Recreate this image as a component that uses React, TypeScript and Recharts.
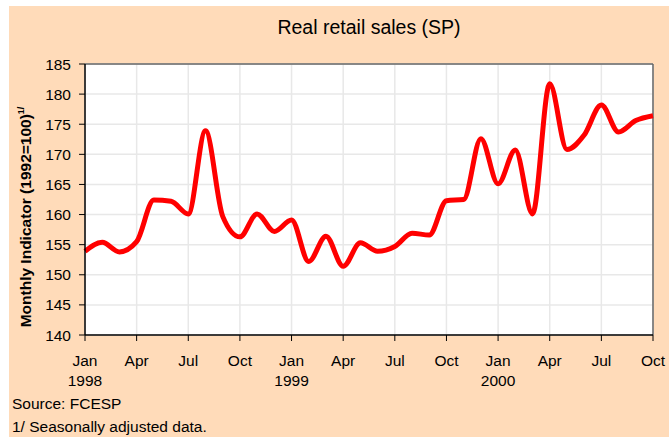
import { LineChart, Line, XAxis, YAxis, CartesianGrid, ReferenceLine } from "recharts";

const periods = [
  "Jan 1998", "Feb 1998", "Mar 1998", "Apr 1998", "May 1998", "Jun 1998",
  "Jul 1998", "Aug 1998", "Sep 1998", "Oct 1998", "Nov 1998", "Dec 1998",
  "Jan 1999", "Feb 1999", "Mar 1999", "Apr 1999", "May 1999", "Jun 1999",
  "Jul 1999", "Aug 1999", "Sep 1999", "Oct 1999", "Nov 1999", "Dec 1999",
  "Jan 2000", "Feb 2000", "Mar 2000", "Apr 2000", "May 2000", "Jun 2000",
  "Jul 2000", "Aug 2000", "Sep 2000", "Oct 2000",
];

const retailSales = [
  153.9, 155.4, 153.8, 155.5, 162.4, 162.2, 160.1, 173.9, 159.7, 156.3, 160.1, 157.2,
  159.1, 152.2, 156.4, 151.4, 155.3, 153.9, 154.7, 156.9, 156.6, 162.3, 162.5, 172.6,
  165.1, 170.7, 160.1, 181.7, 170.8, 173.2, 178.2, 173.7, 175.6, 176.4,
];

const yTicks = [140, 145, 150, 155, 160, 165, 170, 175, 180, 185];

const data = periods.map((p, i) => ({ period: p, value: retailSales[i] }));

const FONT = "'Liberation Sans', Arial, sans-serif";
const PEACH = "#FFDBB9";

function MonthTick({ x, y, payload }: any) {
  const [month, year] = String(payload.value).split(" ");
  return (
    <text x={x} y={y} textAnchor="middle" fontSize={15.5} fontFamily={FONT} fill="#000">
      <tspan x={x} dy={23}>{month}</tspan>
      {month === "Jan" && <tspan x={x} dy={20}>{year}</tspan>}
    </text>
  );
}

export default function App() {
  return (
    <div
      style={{
        position: "absolute",
        left: 9,
        top: 6,
        width: 660,
        height: 431,
        background: PEACH,
        fontFamily: FONT,
      }}
    >
      <div
        style={{
          position: "absolute",
          top: 12,
          left: 76,
          width: 568,
          textAlign: "center",
          fontSize: 19.5,
          lineHeight: "19.5px",
        }}
      >
        Real retail sales (SP)
      </div>

      <LineChart
        width={660}
        height={431}
        data={data}
        margin={{ top: 58, right: 16, bottom: 42, left: 16 }}
      >
        <CartesianGrid stroke="#e8e8e8" strokeWidth={1.5} fill="#fff" />
        <XAxis
          dataKey="period"
          interval={2}
          height={60}
          tick={<MonthTick />}
          tickSize={6}
          tickLine={{ stroke: "#000" }}
          axisLine={{ stroke: "#000", strokeWidth: 1.5 }}
          padding={{ left: 0, right: 0 }}
        />
        <YAxis
          domain={[140, 185]}
          ticks={yTicks}
          width={60}
          tickSize={6}
          tickMargin={8}
          tick={{ fontSize: 15.5, fontFamily: FONT, fill: "#000" }}
          tickLine={{ stroke: "#000" }}
          axisLine={{ stroke: "#000", strokeWidth: 1.5 }}
        />
        <ReferenceLine y={185} stroke="#666" strokeWidth={1.5} />
        <ReferenceLine x="Oct 2000" stroke="#666" strokeWidth={1.5} />
        <Line
          type="monotone"
          dataKey="value"
          stroke="#FF0000"
          strokeWidth={5}
          dot={false}
          isAnimationActive={false}
        />
      </LineChart>

      <svg
        width={60}
        height={431}
        style={{ position: "absolute", left: 0, top: 0, pointerEvents: "none" }}
      >
        <text
          x={22}
          y={211}
          transform="rotate(-90 22 211)"
          textAnchor="middle"
          fontSize={15.5}
          fontWeight="bold"
          fontFamily={FONT}
          fill="#000"
        >
          Monthly Indicator (1992=100)
          <tspan dy={-7} fontSize={9}>1/</tspan>
        </text>
      </svg>

      <div style={{ position: "absolute", left: 3, top: 390, fontSize: 15.5, lineHeight: "15.5px" }}>
        Source: FCESP
      </div>
      <div style={{ position: "absolute", left: 3, top: 413, fontSize: 15.5, lineHeight: "15.5px" }}>
        1/ Seasonally adjusted data.
      </div>
    </div>
  );
}
